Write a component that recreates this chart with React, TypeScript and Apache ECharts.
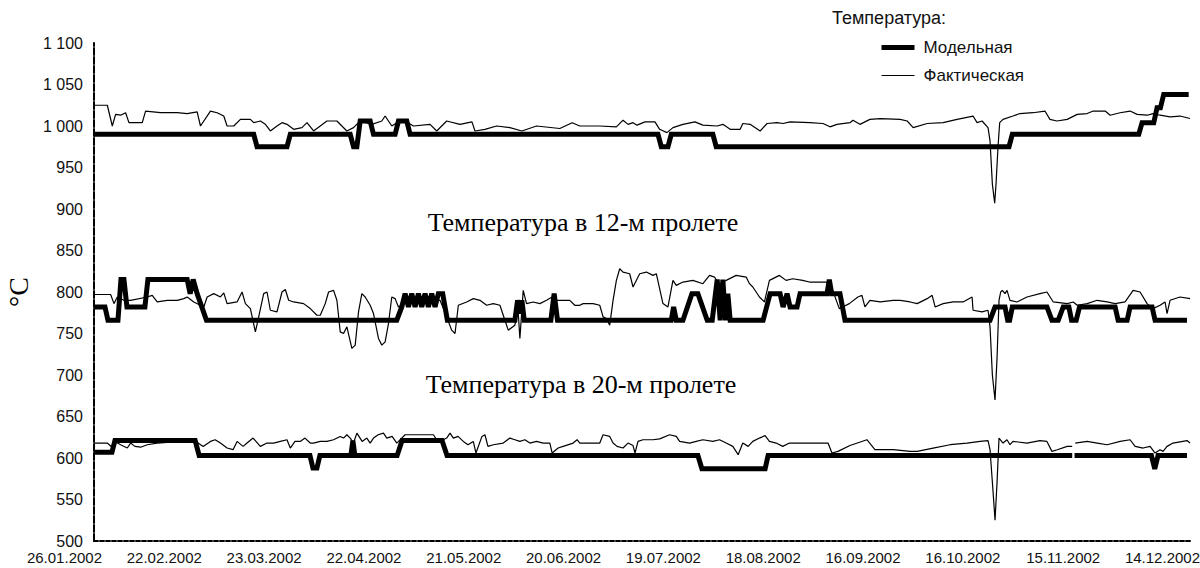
import React, { useEffect, useRef } from "react";
import * as echarts from "echarts";

// Category ticks along the x axis (one every 30 samples)
const xTickLabels = [
  "26.01.2002", "22.02.2002", "23.03.2002", "22.04.2002", "21.05.2002", "20.06.2002",
  "19.07.2002", "18.08.2002", "16.09.2002", "16.10.2002", "15.11.2002", "14.12.2002",
];
const X_STEP = 30;
const X_MAX = 330;

// Upper group: model (step) and measured temperature, [sample index, °C]
const modelTop: [number, number][] = [
  [0, 990], [48, 990], [49, 975], [58, 975], [59, 990], [77, 990], [78, 975], [79, 975], [80, 1006],
  [83, 1006], [84, 990], [90.5, 990], [91.5, 1006], [94, 1006], [95, 990], [169.5, 990], [170.5, 975],
  [172.5, 975], [173.5, 990], [186, 990], [187, 975], [275, 975], [276, 990], [314, 990], [315, 1004],
  [318.5, 1004], [319.5, 1022], [320.5, 1022], [321.5, 1038], [329, 1038],
];
const actualTop: [number, number][] = [
  [0, 1025], [4, 1025], [5.5, 1000], [6.5, 1014], [8, 1013], [9.5, 1016], [10.5, 1004], [14.5, 1004],
  [15.5, 1018], [20, 1016], [25, 1016], [28, 1015], [31, 1017], [32, 1000], [35, 1018], [37, 1016],
  [39, 1012], [40, 1000], [42, 1000], [44, 1008], [47, 1008], [48, 1004], [50, 1006], [51.5, 1002],
  [53, 994], [55, 1000], [56.5, 1004], [58, 1002], [60, 996], [62.5, 998], [64, 1004], [66, 994],
  [70, 1006], [73, 1006], [76, 994], [78, 998], [80, 1006], [83.5, 1002], [86.5, 1006], [87.5, 1012],
  [89.5, 1000], [91, 1004], [93.5, 1006], [96, 1000], [101, 1002], [103, 994], [106, 1006], [110, 1002],
  [113.6, 1005], [114.5, 994], [117.5, 996], [121, 1000], [125, 998], [128.6, 994], [133, 1000],
  [140, 997], [143.7, 1004], [146, 1000], [152, 1000], [157, 999], [159, 1007], [160.5, 1002],
  [162, 1004], [163.2, 1001], [165.6, 1005], [168.6, 1005], [170, 996], [172.2, 992], [174, 998],
  [177, 1002], [180.6, 1005], [183, 1001], [187.3, 1000], [189, 1002], [191.2, 996], [194.2, 996],
  [195, 1003], [197.2, 1002], [200.2, 994], [202.3, 1003], [205.3, 1004], [207.1, 1003], [209.2, 1005],
  [215.2, 1004], [219.1, 1003], [221.2, 999], [223.3, 1002], [227.2, 1004], [228.1, 1007], [230.2, 1002],
  [233.2, 1008], [236.3, 1009], [242.3, 1008], [244.4, 1006], [246.2, 998], [250.4, 1003], [255.2, 1004],
  [259.4, 1008], [264.2, 1012], [265.4, 1004], [266.9, 1006], [268.7, 998], [269.3, 982], [270, 930],
  [270.7, 907], [271.1, 930], [271.7, 975], [272.2, 1004], [273.2, 1008], [276.2, 1012], [278.3, 1015],
  [282.2, 1016], [285.8, 1018], [287.3, 1008], [289.4, 1006], [292.5, 1008], [295.5, 1014], [298.5, 1015],
  [300.3, 1018], [303.9, 1018], [305.4, 1013], [308.4, 1016], [311.4, 1018], [313.5, 1014], [316.5, 1013],
  [318.3, 1015], [320.4, 1013], [323.4, 1011], [326.4, 1012], [329.4, 1009],
];

// Middle group
const modelMid: [number, number][] = [
  [0, 782], [3.3, 782], [4.2, 766], [7.2, 766], [8.1, 815], [9, 815], [9.9, 782], [15.3, 782], [16.2, 815],
  [28, 815], [28.9, 798], [29.8, 815], [31, 798], [33.8, 766], [91, 766], [92.5, 782], [93.5, 798],
  [94.5, 782], [95.5, 798], [96.5, 782], [97.5, 798], [98.5, 782], [99.5, 798], [100.5, 782], [101.5, 798],
  [102.5, 782], [103.5, 798], [104.8, 798], [106.2, 766], [126.5, 766], [127.3, 790], [128, 774],
  [128.6, 790], [129.3, 766], [137.3, 766], [138.3, 798], [139.3, 766], [173.5, 766], [174.2, 782],
  [175, 766], [177, 766], [179.7, 798], [181.5, 798], [184.3, 766], [185.8, 766], [187.3, 815],
  [188.2, 766], [189, 815], [189.8, 766], [190.5, 798], [191.2, 766], [201.1, 766], [203.2, 798],
  [206.2, 798], [207.1, 782], [208.3, 798], [209.2, 782], [211.3, 782], [212.2, 798], [220.3, 798],
  [221, 815], [221.7, 798], [224.2, 798], [225.7, 766], [269.3, 766], [270.8, 782], [273.8, 782],
  [274.6, 766], [275.2, 766], [276, 782], [286.4, 782], [287.9, 766], [289.8, 766], [291.3, 782],
  [293, 782], [293.8, 766], [295.2, 766], [296.2, 782], [306.9, 782], [307.8, 766], [310.5, 766],
  [311.4, 782], [318, 782], [318.9, 766], [328.5, 766],
];
const actualMid: [number, number][] = [
  [0, 797], [5, 797], [6, 786], [7, 794], [9, 790], [11, 790], [16, 794], [17.5, 796], [19, 788], [22, 790],
  [25, 790], [27, 792], [28, 794], [30, 788], [33, 782], [34, 794], [36, 798], [38, 794], [39, 799],
  [40, 786], [43, 788], [44.5, 800], [45.5, 786], [47, 780], [48.5, 752], [49.5, 770], [51, 798],
  [52, 800], [53, 778], [55, 776], [56.5, 800], [57.5, 803], [58.5, 790], [60, 788], [63, 786], [65, 780],
  [67, 772], [68, 772], [69.5, 786], [70.5, 800], [72, 802], [73, 790], [74, 752], [75, 750], [76, 758],
  [77.5, 732], [78.5, 736], [79.5, 776], [80.5, 798], [81.5, 794], [83, 784], [84, 774], [85.5, 744],
  [86.5, 736], [87.5, 740], [88.5, 762], [89.5, 794], [90.5, 792], [91.5, 782], [93, 786], [95, 790],
  [100, 792], [104, 790], [106, 770], [107.5, 754], [108.5, 750], [109.5, 784], [112, 788], [114, 792],
  [116, 790], [118, 784], [120, 786], [122, 784], [123.5, 766], [124.5, 754], [126.5, 760], [127.4, 782],
  [128, 744], [129, 802], [130, 786], [132, 788], [134, 786], [136, 790], [137.7, 794], [139, 790],
  [143, 790], [144.5, 784], [146, 784], [147, 786], [150, 786], [152, 784], [153, 770], [154, 768],
  [155, 760], [156, 790], [157, 814], [158, 828], [159, 824], [161, 822], [162, 806], [164, 822],
  [166, 824], [168, 820], [169, 822], [171, 786], [172.5, 782], [174, 814], [175, 808], [177, 812],
  [180, 814], [183, 810], [185, 820], [186.5, 818], [188, 808], [190, 814], [193, 820], [196, 818],
  [197, 810], [198, 806], [200, 794], [201.5, 788], [203, 814], [206, 820], [208, 814], [210, 816],
  [213, 814], [215, 812], [217, 812], [220, 812], [221, 810], [222, 802], [224, 780], [225, 782],
  [227, 786], [229.6, 794], [230.8, 796], [231.7, 782], [233.2, 790], [236.3, 788], [240.2, 790],
  [242.3, 790], [245.3, 788], [247.4, 786], [250.4, 792], [251.9, 796], [252.8, 782], [255.2, 786],
  [258.2, 788], [261.2, 788], [263.9, 794], [264.2, 778], [266.9, 776], [268.7, 778], [269.3, 758],
  [270, 700], [270.8, 670], [271.4, 720], [272, 790], [272.5, 800], [273, 802], [273.8, 798],
  [274.4, 802], [275.3, 790], [277.4, 788], [280.4, 794], [284.3, 798], [286.4, 800], [288.3, 788],
  [292.5, 786], [294.3, 788], [295.5, 784], [298.5, 786], [301.5, 790], [304.5, 788], [306.9, 786],
  [309.9, 788], [312.3, 802], [314.4, 800], [316.5, 786], [318.3, 780], [320.4, 784], [321.9, 788],
  [322.5, 774], [323.4, 790], [326.4, 794], [329.4, 792],
];

// Lower group (null marks the short gap in the record)
const modelLow: [number, number | null][] = [
  [0, 607], [5.4, 607], [6.3, 621], [30.4, 621], [31.6, 603], [64.9, 603], [65.8, 588], [67, 588],
  [67.9, 603], [77.2, 603], [77.8, 621], [78.4, 603], [91.1, 603], [92.6, 621], [104.6, 621],
  [106.1, 603], [181.5, 603], [182.7, 587], [201.7, 587], [202.6, 603], [294, 603], [294.3, null],
  [294.7, 603], [317.8, 603], [318.8, 587], [319.8, 603], [328.5, 603],
];
const actualLow: [number, number | null][] = [
  [0, 618], [4, 618], [5.4, 613], [6.3, 620], [8, 616], [10, 612], [11, 618], [12.3, 614], [14, 613],
  [16, 616], [19, 618], [23, 619], [26, 620], [29, 621], [31.3, 618], [32.8, 614], [35, 620], [36.4, 622],
  [38, 618], [40, 612], [41.8, 610], [43, 620], [44.8, 614], [46, 618], [47.8, 624], [50, 614], [52, 618],
  [54, 618], [56, 620], [58, 622], [59, 612], [60.4, 620], [62, 620], [63.4, 624], [65, 618], [66, 618],
  [68, 620], [70, 620], [72, 622], [74, 626], [75, 624], [76, 628], [77, 624], [78, 618], [79, 630],
  [80.6, 620], [82, 624], [83, 618], [84, 624], [85.4, 628], [87, 630], [88, 624], [89.6, 626], [91, 618],
  [93.5, 628], [102, 628], [103, 622], [105, 622], [106, 624], [107, 630], [108, 624], [109.4, 626],
  [111, 620], [112.4, 616], [114, 620], [114.8, 606], [116.6, 626], [117.5, 628], [118.4, 614],
  [120, 616], [123, 618], [125, 624], [126.5, 622], [128, 620], [129.5, 622], [131, 618], [133, 620],
  [135, 618], [137, 618], [137.7, 606], [139.5, 612], [141, 614], [144, 618], [145.2, 622], [146, 618],
  [149, 618], [152, 618], [153, 628], [155, 626], [156, 618], [157.2, 614], [159, 612], [160.5, 618],
  [162, 615], [162.6, 606], [163.5, 620], [165, 622], [168, 622], [170, 623], [173, 628], [175, 626],
  [176, 620], [179, 618], [181, 620], [183, 622], [186, 620], [188, 622], [190, 618], [192, 614],
  [193.6, 604], [195, 618], [196.6, 614], [198, 620], [200, 624], [201.7, 627], [203, 620], [205, 618],
  [207, 614], [209, 618], [213, 618], [217, 618], [220.6, 618], [221.8, 606], [223.6, 608], [227.2, 615],
  [232.3, 622], [234.7, 610], [240.2, 610], [245.3, 608], [247.4, 608], [252.2, 612], [257.3, 616],
  [262.4, 618], [266.3, 620], [268.7, 621], [269.3, 610], [270.2, 560], [270.8, 525], [271.4, 570],
  [272, 624], [273.2, 618], [274.4, 622], [275.3, 616], [276.2, 620], [280.4, 618], [284.3, 621],
  [286.4, 620], [287.9, 608], [289.5, 610], [292.5, 614], [294, 614], [294.4, null], [294.9, 618],
  [298.5, 620], [301.5, 618], [304.5, 616], [308.4, 620], [311.4, 622], [312.9, 614], [315.3, 612],
  [317.4, 614], [318.9, 606], [320.4, 610], [321.3, 608], [322.5, 614], [324.3, 618], [328.5, 621],
  [329.4, 618],
];

const MODEL = "Модельная";
const ACTUAL = "Фактическая";
const SANS = '"Liberation Sans", Arial, sans-serif';
const SERIF = '"Liberation Serif", "Times New Roman", serif';

const modelLine = (data: [number, number | null][]) => ({
  name: MODEL,
  type: "line" as const,
  data,
  symbol: "none",
  showSymbol: false,
  z: 2,
  lineStyle: { color: "#000", width: 5, cap: "butt", join: "miter", miterLimit: 2 },
  itemStyle: { color: "#000" },
});
const actualLine = (data: [number, number | null][]) => ({
  name: ACTUAL,
  type: "line" as const,
  data,
  symbol: "none",
  showSymbol: false,
  z: 3,
  lineStyle: { color: "#000", width: 1.2 },
  itemStyle: { color: "#000" },
});

const thousands = (v: number) => String(v).replace(/\B(?=(\d{3})+(?!\d))/g, " ");

export default function App() {
  const ref = useRef<HTMLDivElement>(null);

  useEffect(() => {
    if (!ref.current) return;
    const chart = echarts.init(ref.current, null, { renderer: "svg" });
    chart.setOption({
      animation: false,
      backgroundColor: "#fff",
      grid: {
        left: 94,
        right: 8,
        top: 43,
        bottom: 27,
        containLabel: false,
        outerBoundsMode: "none",
      },
      xAxis: {
        type: "value",
        min: 0,
        max: X_MAX,
        interval: X_STEP,
        splitLine: { show: false },
        axisTick: { show: false },
        axisLine: { lineStyle: { color: "#000", width: 2, type: [4, 2] } },
        axisLabel: {
          color: "#111",
          fontFamily: SANS,
          fontSize: 15,
          margin: 9,
          align: "right",
          padding: [0, -8, 0, 0],
          formatter: (v: number) => xTickLabels[Math.round(v / X_STEP)] ?? "",
        },
      },
      yAxis: {
        type: "value",
        min: 500,
        max: 1100,
        interval: 50,
        splitLine: { show: false },
        axisTick: { show: false },
        axisLine: { show: true, lineStyle: { color: "#000", width: 2, type: [7, 2] } },
        axisLabel: {
          color: "#111",
          fontFamily: SANS,
          fontSize: 16,
          margin: 11,
          formatter: (v: number) => thousands(v),
        },
        name: "°C",
        nameLocation: "middle",
        nameRotate: 90,
        nameGap: 61,
        nameTextStyle: { color: "#000", fontFamily: SERIF, fontSize: 28 },
      },
      legend: {
        data: [
          { name: MODEL, lineStyle: { width: 5 } },
          { name: ACTUAL, lineStyle: { width: 1 } },
        ],
        orient: "vertical",
        left: 874,
        top: 34,
        itemWidth: 33,
        itemHeight: 14,
        itemGap: 11,
        itemStyle: { opacity: 0 },
        textStyle: { color: "#111", fontFamily: SANS, fontSize: 17, padding: [0, 0, 0, 4] },
      },
      graphic: [
        {
          type: "text",
          x: 832,
          y: 18,
          style: {
            text: "Температура:",
            fill: "#111",
            fontFamily: SANS,
            fontSize: 18,
            align: "left",
            verticalAlign: "middle",
          },
        },
        {
          type: "text",
          x: 583,
          y: 222,
          style: {
            text: "Температура в 12-м пролете",
            fill: "#000",
            fontFamily: SERIF,
            fontSize: 26,
            align: "center",
            verticalAlign: "middle",
          },
        },
        {
          type: "text",
          x: 581,
          y: 384,
          style: {
            text: "Температура в 20-м пролете",
            fill: "#000",
            fontFamily: SERIF,
            fontSize: 26,
            align: "center",
            verticalAlign: "middle",
          },
        },
      ],
      series: [
        modelLine(modelTop),
        actualLine(actualTop),
        modelLine(modelMid),
        actualLine(actualMid),
        modelLine(modelLow),
        actualLine(actualLow),
      ],
    });
    return () => chart.dispose();
  }, []);

  return (
    <div
      ref={ref}
      style={{ position: "absolute", left: 0, top: 0, width: 1200, height: 568 }}
    />
  );
}
